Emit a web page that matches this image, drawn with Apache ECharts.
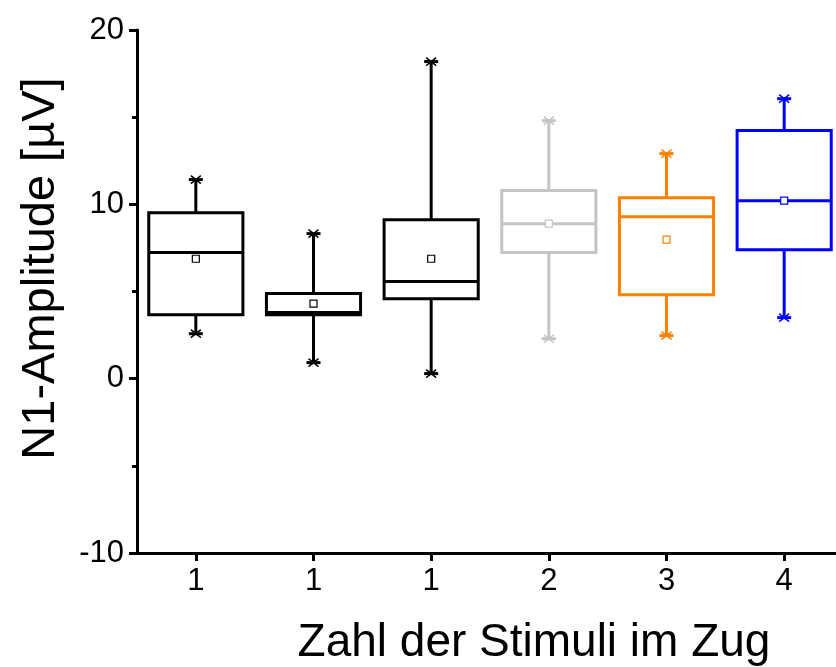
<!DOCTYPE html>
<html><head><meta charset="utf-8">
<script src="https://cdn.jsdelivr.net/npm/echarts@6/dist/echarts.min.js"></script>
<style>html,body{margin:0;padding:0;background:#fff}#c{width:836px;height:667px}</style>
</head><body><div id="c"></div>
<script>
// Data
const categories = ['1', '1', '1', '2', '3', '4'];
const whiskerLow = [2.58, 0.92, 0.29, 2.29, 2.47, 3.50];
const q1 = [3.67, 3.67, 4.59, 7.23, 4.82, 7.40];
const median = [7.23, 3.79, 5.57, 8.89, 9.29, 10.21];
const q3 = [9.52, 4.88, 9.12, 10.79, 10.38, 14.23];
const whiskerHigh = [11.42, 8.32, 18.19, 14.80, 12.91, 16.06];
const mean = [6.88, 4.30, 6.88, 8.89, 7.97, 10.21];
const yTicks = [-10, 0, 10, 20];

const boxColors = ['#000000', '#000000', '#000000', '#c4c4c4', '#ff8000', '#0000ff'];

const seriesData = categories.map((c, i) => [i, whiskerLow[i], q1[i], median[i], q3[i], whiskerHigh[i], mean[i]]);

function renderItem(params, api) {
  const i = api.value(0);
  const color = boxColors[i];
  const bw = api.size([1, 0])[0] * 0.8;
  const pLow = api.coord([i, api.value(1)]);
  const pQ1 = api.coord([i, api.value(2)]);
  const pMed = api.coord([i, api.value(3)]);
  const pQ3 = api.coord([i, api.value(4)]);
  const pHigh = api.coord([i, api.value(5)]);
  const pMean = api.coord([i, api.value(6)]);
  const x = pQ1[0];
  const lw = 3;
  const ls = { stroke: color, lineWidth: lw, fill: null };
  const star = (p) => ([
    { type: 'line', shape: { x1: x - 7, y1: p[1], x2: x + 7, y2: p[1] }, style: { stroke: color, lineWidth: 3 } },
    { type: 'line', shape: { x1: x - 5, y1: p[1] - 4, x2: x + 5, y2: p[1] + 4 }, style: { stroke: color, lineWidth: 1.5 } },
    { type: 'line', shape: { x1: x - 5, y1: p[1] + 4, x2: x + 5, y2: p[1] - 4 }, style: { stroke: color, lineWidth: 1.5 } }
  ]);
  return {
    type: 'group',
    children: [
      { type: 'line', shape: { x1: x, y1: pHigh[1], x2: x, y2: pQ3[1] }, style: ls },
      { type: 'line', shape: { x1: x, y1: pQ1[1], x2: x, y2: pLow[1] }, style: ls },
      { type: 'rect', shape: { x: x - bw / 2, y: pQ3[1], width: bw, height: pQ1[1] - pQ3[1] }, style: { stroke: color, lineWidth: lw, fill: '#fff' } },
      { type: 'line', shape: { x1: x - bw / 2, y1: pMed[1], x2: x + bw / 2, y2: pMed[1] }, style: ls },
      { type: 'rect', shape: { x: x - 3.5, y: pMean[1] - 3.5, width: 7, height: 7 }, style: { stroke: color, lineWidth: 1.2, fill: '#fff' } },
      ...star(pHigh),
      ...star(pLow)
    ]
  };
}

const chart = echarts.init(document.getElementById('c'), null, { renderer: 'canvas' });
const font = 'Liberation Sans, Arial, sans-serif';
chart.setOption({
  animation: false,
  backgroundColor: '#fff',
  grid: { left: 137, top: 30, width: 706, height: 523, containLabel: false, outerBoundsMode: 'none' },
  xAxis: {
    type: 'category',
    data: categories,
    boundaryGap: true,
    name: 'Zahl der Stimuli im Zug',
    nameLocation: 'middle',
    nameGap: 67,
    nameTextStyle: { fontSize: 46, color: '#000', fontFamily: font, padding: [0, 0, 0, 88] },
    axisLine: { onZero: false, lineStyle: { color: '#000', width: 3 } },
    axisTick: { show: true, alignWithLabel: true, length: 8, lineStyle: { color: '#000', width: 3 } },
    axisLabel: { fontSize: 31, color: '#000', fontFamily: font, margin: 13, interval: 0 },
    splitLine: { show: false }
  },
  yAxis: {
    type: 'value',
    min: yTicks[0],
    max: yTicks[yTicks.length - 1],
    interval: 10,
    name: 'N1-Amplitude [µV]',
    nameLocation: 'middle',
    nameGap: 72,
    nameTextStyle: { fontSize: 47, color: '#000', fontFamily: font, padding: [0, 0, 0, 46] },
    axisLine: { show: true, lineStyle: { color: '#000', width: 3 } },
    axisTick: { show: true, length: 8, lineStyle: { color: '#000', width: 3 } },
    minorTick: { show: true, splitNumber: 2, length: 5, lineStyle: { color: '#000', width: 3 } },
    axisLabel: { fontSize: 31, color: '#000', fontFamily: font, margin: 13 },
    splitLine: { show: false }
  },
  series: [{
    type: 'custom',
    renderItem: renderItem,
    data: seriesData,
    encode: { x: 0, y: [1, 2, 3, 4, 5, 6] },
    clip: false
  }]
});
</script></body></html>
